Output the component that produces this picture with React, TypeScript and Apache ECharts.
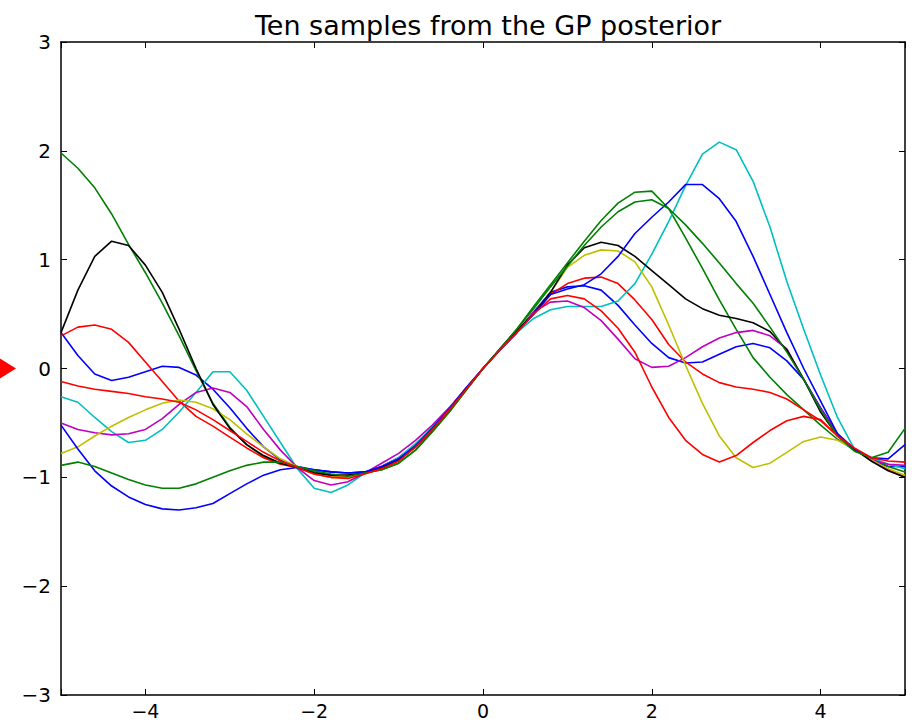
import React, { useEffect, useRef } from "react";
import * as echarts from "echarts";

// Input grid shared by every sample: -5 … 5 in steps of 0.2
const xs = [
  -5, -4.8, -4.6, -4.4, -4.2, -4, -3.8, -3.6, -3.4, -3.2, -3, -2.8, -2.6, -2.4, -2.2,
  -2, -1.8, -1.6, -1.4, -1.2, -1, -0.8, -0.6, -0.4, -0.2, 0, 0.2, 0.4,
  0.6, 0.8, 1, 1.2, 1.4, 1.6, 1.8, 2, 2.2, 2.4, 2.6, 2.8, 3, 3.2, 3.4, 3.6, 3.8,
  4, 4.2, 4.4, 4.6, 4.8, 5,
];

// Ten draws from the posterior, one array per draw
const sampleBlue1 = [
  0.33, 0.12, -0.05, -0.11, -0.08, -0.03, 0.02, 0.01, -0.06, -0.19, -0.36, -0.55, -0.72, -0.84, -0.9,
  -0.93, -0.95, -0.96, -0.95, -0.9, -0.82, -0.7, -0.54, -0.37, -0.18, 0, 0.17, 0.33,
  0.52, 0.7, 0.75, 0.76, 0.72, 0.58, 0.4, 0.23, 0.1, 0.05, 0.06, 0.13, 0.2, 0.23, 0.19, 0.07, -0.1,
  -0.36, -0.6, -0.74, -0.84, -0.9, -0.9,
];
const sampleGreen1 = [
  1.98, 1.84, 1.66, 1.42, 1.14, 0.88, 0.6, 0.3, -0.02, -0.32, -0.54, -0.7, -0.81, -0.87, -0.91,
  -0.95, -0.98, -0.99, -0.96, -0.93, -0.87, -0.75, -0.58, -0.4, -0.2, 0, 0.18, 0.36,
  0.57, 0.77, 0.97, 1.17, 1.36, 1.52, 1.62, 1.63, 1.47, 1.2, 0.92, 0.63, 0.36, 0.1, -0.08, -0.24, -0.38,
  -0.52, -0.65, -0.75, -0.82, -0.9, -0.95,
];
const sampleRed1 = [
  0.3, 0.38, 0.4, 0.36, 0.24, 0.06, -0.12, -0.3, -0.44, -0.53, -0.63, -0.73, -0.82, -0.88, -0.91,
  -0.97, -1, -0.99, -0.96, -0.92, -0.85, -0.72, -0.56, -0.38, -0.19, 0, 0.17, 0.33,
  0.5, 0.68, 0.78, 0.83, 0.84, 0.78, 0.63, 0.45, 0.22, 0.06, -0.05, -0.13, -0.17, -0.19, -0.22, -0.28, -0.38,
  -0.48, -0.62, -0.74, -0.84, -0.93, -1,
];
const sampleCyan = [
  -0.26, -0.31, -0.45, -0.58, -0.68, -0.66, -0.56, -0.4, -0.22, -0.03, -0.03, -0.2, -0.44, -0.68, -0.92,
  -1.1, -1.14, -1.07, -0.96, -0.9, -0.82, -0.69, -0.54, -0.37, -0.18, 0, 0.17, 0.33,
  0.46, 0.54, 0.57, 0.57, 0.57, 0.62, 0.78, 1.05, 1.35, 1.68, 1.97, 2.08, 2.01, 1.72, 1.3, 0.8, 0.36,
  -0.06, -0.45, -0.74, -0.82, -0.88, -0.92,
];
const sampleMagenta = [
  -0.5, -0.56, -0.59, -0.61, -0.6, -0.56, -0.46, -0.33, -0.22, -0.18, -0.22, -0.35, -0.56, -0.75, -0.91,
  -1.03, -1.07, -1.04, -0.96, -0.87, -0.78, -0.66, -0.52, -0.36, -0.18, 0, 0.17, 0.33,
  0.52, 0.61, 0.62, 0.56, 0.44, 0.27, 0.09, 0.01, 0.02, 0.1, 0.2, 0.28, 0.33, 0.35, 0.3, 0.18, -0.1,
  -0.37, -0.6, -0.74, -0.84, -0.88, -0.89,
];
const sampleYellow = [
  -0.78, -0.72, -0.62, -0.53, -0.45, -0.38, -0.32, -0.29, -0.31, -0.37, -0.47, -0.6, -0.72, -0.83, -0.9,
  -0.97, -1, -1, -0.96, -0.91, -0.84, -0.72, -0.56, -0.38, -0.19, 0, 0.17, 0.33,
  0.5, 0.7, 0.93, 1.04, 1.09, 1.08, 0.98, 0.75, 0.4, 0.03, -0.32, -0.62, -0.82, -0.91, -0.87, -0.77, -0.67,
  -0.63, -0.66, -0.74, -0.84, -0.92, -0.98,
];
const sampleBlack = [
  0.33, 0.72, 1.03, 1.17, 1.13, 0.95, 0.7, 0.36, 0, -0.33, -0.55, -0.7, -0.8, -0.87, -0.91,
  -0.96, -0.98, -0.98, -0.96, -0.91, -0.84, -0.72, -0.56, -0.38, -0.19, 0, 0.18, 0.35,
  0.5, 0.7, 0.95, 1.11, 1.16, 1.13, 1.03, 0.9, 0.77, 0.64, 0.55, 0.49, 0.46, 0.42, 0.34, 0.17, -0.1,
  -0.4, -0.62, -0.74, -0.85, -0.94, -1,
];
const sampleBlue2 = [
  -0.52, -0.74, -0.94, -1.08, -1.18, -1.25, -1.29, -1.3, -1.28, -1.24, -1.15, -1.06, -0.98, -0.93, -0.91,
  -0.93, -0.95, -0.96, -0.95, -0.9, -0.83, -0.71, -0.55, -0.37, -0.18, 0, 0.17, 0.33,
  0.5, 0.68, 0.73, 0.77, 0.87, 1.03, 1.24, 1.39, 1.53, 1.69, 1.69, 1.56, 1.35, 1.03, 0.68, 0.33, 0,
  -0.3, -0.6, -0.74, -0.82, -0.83, -0.7,
];
const sampleGreen2 = [
  -0.89, -0.86, -0.9, -0.96, -1.02, -1.07, -1.1, -1.1, -1.06, -1, -0.94, -0.89, -0.86, -0.86, -0.9,
  -0.94, -0.97, -0.99, -0.96, -0.93, -0.87, -0.75, -0.58, -0.4, -0.2, 0, 0.18, 0.36,
  0.55, 0.75, 0.94, 1.13, 1.3, 1.44, 1.53, 1.55, 1.47, 1.32, 1.15, 0.97, 0.78, 0.6, 0.38, 0.15, -0.1,
  -0.38, -0.62, -0.76, -0.82, -0.77, -0.55,
];
const sampleRed2 = [
  -0.12, -0.16, -0.19, -0.21, -0.23, -0.26, -0.28, -0.31, -0.38, -0.47, -0.57, -0.67, -0.77, -0.85, -0.91,
  -0.97, -1, -1.01, -0.97, -0.92, -0.85, -0.72, -0.56, -0.38, -0.19, 0, 0.17, 0.33,
  0.5, 0.64, 0.67, 0.64, 0.53, 0.37, 0.15, -0.17, -0.45, -0.66, -0.79, -0.86, -0.8, -0.68, -0.57, -0.48, -0.44,
  -0.47, -0.62, -0.73, -0.82, -0.85, -0.86,
];

const samples = [
  sampleBlue1, sampleGreen1, sampleRed1, sampleCyan, sampleMagenta,
  sampleYellow, sampleBlack, sampleBlue2, sampleGreen2, sampleRed2,
];
// Classic colour cycle: b, g, r, c, m, y, k, then around again
const lineColors = [
  "#0000ff", "#008000", "#ff0000", "#00bfbf", "#bf00bf",
  "#bfbf00", "#000000", "#0000ff", "#008000", "#ff0000",
];

const titleText = "Ten samples from the GP posterior";
const FONT = "DejaVu Sans";

const signed = (v: number) => (v < 0 ? "\u2212" + Math.abs(v) : String(v));
const xLabel = (v: number) => (Math.abs(v) === 5 ? "" : signed(v));

const GRID = { left: 61, right: 12, top: 42, bottom: 28 };
const WIDTH = 917;
const HEIGHT = 723;

export default function App() {
  const ref = useRef<HTMLDivElement>(null);

  useEffect(() => {
    if (!ref.current) return;
    const chart = echarts.init(ref.current, null, { renderer: "svg" });

    const frame = { show: true, onZero: false, lineStyle: { color: "#000", width: 1.5 } };
    const ticks = { show: true, inside: true, length: 6, lineStyle: { color: "#000", width: 1 } };
    const labelStyle = { color: "#000", fontSize: 19, fontFamily: FONT };
    // title sits centred over the plotting area, not the whole canvas
    const plotCentre = GRID.left + (WIDTH - GRID.left - GRID.right) / 2;

    chart.setOption({
      animation: false,
      backgroundColor: "#fff",
      title: {
        text: titleText,
        left: plotCentre,
        textAlign: "center",
        top: 7,
        textStyle: { fontFamily: FONT, fontSize: 27, fontWeight: "normal", color: "#000" },
      },
      grid: { ...GRID, containLabel: false },
      xAxis: [
        {
          type: "value", position: "bottom", min: -5, max: 5, splitNumber: 5,
          axisLine: frame, axisTick: ticks, splitLine: { show: false },
          axisLabel: { ...labelStyle, margin: 6, formatter: xLabel },
        },
        {
          type: "value", position: "top", min: -5, max: 5, splitNumber: 5,
          axisLine: frame, axisTick: ticks, splitLine: { show: false },
          axisLabel: { show: false },
        },
      ],
      yAxis: [
        {
          type: "value", position: "left", min: -3, max: 3, interval: 1,
          axisLine: frame, axisTick: ticks, splitLine: { show: false },
          axisLabel: { ...labelStyle, fontSize: 20, margin: 10, formatter: signed },
        },
        {
          type: "value", position: "right", min: -3, max: 3, interval: 1,
          axisLine: frame, axisTick: ticks, splitLine: { show: false },
          axisLabel: { show: false },
        },
      ],
      series: samples.map((vals, k) => ({
        type: "line",
        name: "sample " + (k + 1),
        xAxisIndex: 0,
        yAxisIndex: 0,
        data: xs.map((x, i) => [x, vals[i]]),
        showSymbol: false,
        smooth: false,
        clip: true,
        lineStyle: { color: lineColors[k], width: 1.6 },
        itemStyle: { color: lineColors[k] },
      })),
    });

    // Red marker pointing at y = 0 on the left margin
    const py = chart.convertToPixel({ yAxisIndex: 0 }, 0) as number;
    chart.setOption({
      graphic: [
        {
          type: "polygon",
          shape: { points: [[0, py - 10], [16, py], [0, py + 10]] },
          style: { fill: "#ff0000" },
          silent: true,
        },
      ],
    });

    return () => chart.dispose();
  }, []);

  return (
    <div
      ref={ref}
      style={{ position: "fixed", left: 0, top: 0, width: WIDTH, height: HEIGHT, background: "#fff" }}
    />
  );
}
